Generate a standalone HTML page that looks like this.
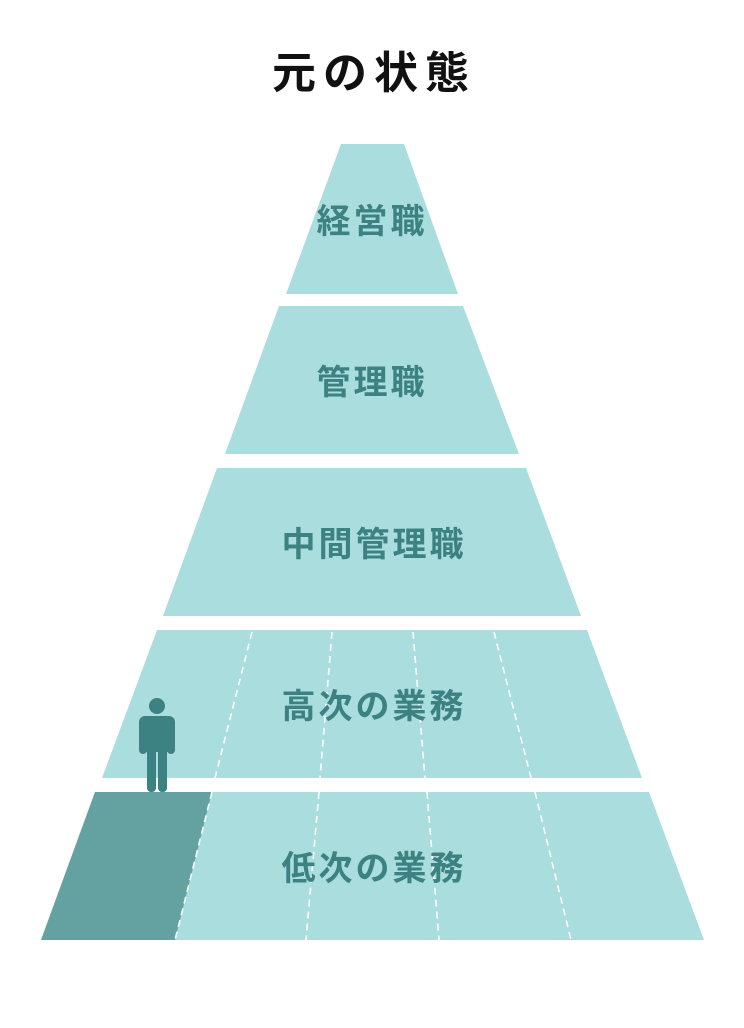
<!DOCTYPE html>
<html><head><meta charset="utf-8"><style>
html,body{margin:0;padding:0;background:#fff;}
svg{display:block}
text{font-family:"Liberation Sans","Noto Sans CJK JP",sans-serif;font-weight:bold;}
</style></head><body>
<svg width="744" height="1028" viewBox="0 0 744 1028" xmlns="http://www.w3.org/2000/svg">
<text x="374" y="88" text-anchor="middle" font-size="44" fill="#111" letter-spacing="7">元の状態</text>
<g fill="#aadddd">
<polygon points="341,144 404,144 458,294 286,294"/>
<polygon points="279,306 463,306 519,454 225,454"/>
<polygon points="217,468 526,468 581,616 163,616"/>
<polygon points="157,630 587,630 642,778 102,778"/>
<polygon points="95,792 649,792 704,940 41,940"/>
</g>
<polygon points="95,792 212,792 175,940 41,940" fill="#64a2a2"/>
<g stroke="#fff" stroke-width="1.6" stroke-dasharray="7,5" fill="none">
<line x1="252" y1="632" x2="215" y2="778"/>
<line x1="332" y1="632" x2="320" y2="778"/>
<line x1="413" y1="632" x2="425" y2="778"/>
<line x1="494" y1="632" x2="531" y2="778"/>
<line x1="212" y1="792" x2="175" y2="940"/>
<line x1="319" y1="792" x2="306" y2="940"/>
<line x1="427" y1="792" x2="439" y2="940"/>
<line x1="535" y1="792" x2="571" y2="940"/>
</g>
<g fill="#3d8282" font-size="34" text-anchor="middle" letter-spacing="3">
<text x="372" y="233">経営職</text>
<text x="372" y="394">管理職</text>
<text x="374" y="556">中間管理職</text>
<text x="374" y="718">高次の業務</text>
<text x="374" y="880">低次の業務</text>
</g>
<g fill="#3d8282">
<circle cx="157" cy="706" r="8"/>
<rect x="139" y="716" width="36" height="36" rx="6"/>
<rect x="139" y="720" width="8" height="34" rx="4"/>
<rect x="167" y="720" width="8" height="34" rx="4"/>
<rect x="147" y="740" width="9" height="52" rx="4"/>
<rect x="158" y="740" width="9" height="52" rx="4"/>
</g>
</svg>
</body></html>
